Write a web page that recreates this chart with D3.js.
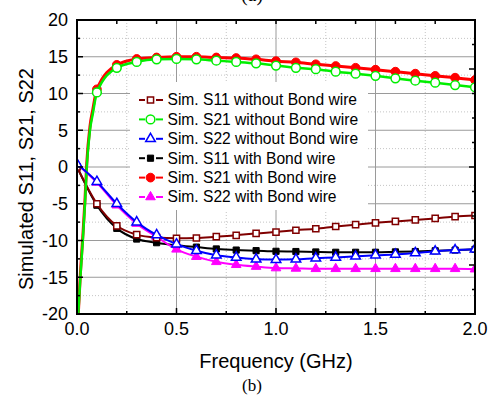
<!DOCTYPE html>
<meta charset="utf-8">
<html>
<head>
  <script src="https://d3js.org/d3.v7.min.js"></script>
  <style>
    body { margin: 0; background: #fff; }
    text { font-family: "Liberation Sans", Arial, sans-serif; fill: #000; }
    .serif { font-family: "Liberation Serif", "Times New Roman", serif; }
  </style>
</head>
<body>
<div id="chart"></div>
<script>
// frequency grid (GHz) for the S11 / S22 curves, markers at every point
const freq = [0, 0.1, 0.2, 0.3, 0.4, 0.5, 0.6, 0.7, 0.8, 0.9, 1.0,
              1.1, 1.2, 1.3, 1.4, 1.5, 1.6, 1.7, 1.8, 1.9, 2.0];
// S21 has a steep rise near 0 GHz, so it has some extra points there
const freqS21 = [0.0065, 0.017, 0.029, 0.04, 0.049, 0.065, 0.08,
                 0.1, 0.2, 0.3, 0.4, 0.5, 0.6, 0.7, 0.8, 0.9, 1.0,
                 1.1, 1.2, 1.3, 1.4, 1.5, 1.6, 1.7, 1.8, 1.9, 2.0];

const s11Without = [0, -5.0, -8.0, -9.2, -9.6, -9.7, -9.66, -9.48, -9.3, -9.03, -8.85,
                    -8.6, -8.4, -8.1, -7.85, -7.6, -7.4, -7.2, -7.0, -6.75, -6.6];
const s21Without = [-20, -15, -10, -5, 0, 5, 7.3,
                    10.15, 13.5, 14.3, 14.65, 14.7, 14.65, 14.47, 14.3, 14.1, 13.8,
                    13.5, 13.3, 12.97, 12.7, 12.4, 12.07, 11.75, 11.47, 11.15, 10.85];
const s22Without = [0.4, -2.0, -5.0, -7.5, -9.25, -10.5, -11.4, -12.0, -12.3, -12.55, -12.6,
                    -12.55, -12.4, -12.3, -12.15, -12.0, -11.9, -11.7, -11.47, -11.3, -11.2];
const s11With = [0, -5.2, -8.35, -9.8, -10.3, -10.65, -10.9, -11.15, -11.3, -11.38, -11.47,
                 -11.5, -11.56, -11.6, -11.6, -11.6, -11.55, -11.5, -11.4, -11.3, -11.2];
const s21With = [-20, -14.5, -9.5, -4.5, 0.5, 5.5, 7.9,
                 10.57, 13.9, 14.7, 14.9, 15.0, 15.0, 14.9, 14.83, 14.65, 14.4,
                 14.24, 13.97, 13.74, 13.5, 13.24, 12.97, 12.7, 12.4, 12.15, 11.84];
const s22With = [0.4, -2.1, -5.2, -7.7, -9.5, -11.2, -12.2, -12.9, -13.3, -13.55, -13.75,
                 -13.8, -13.85, -13.85, -13.85, -13.85, -13.85, -13.85, -13.85, -13.85, -13.9];

const labels = ["Sim. S11 without Bond wire", "Sim. S21 without Bond wire", "Sim. S22 without Bond wire",
                "Sim. S11 with Bond wire", "Sim. S21 with Bond wire", "Sim. S22 with Bond wire"];
const xTicks = [0, 0.5, 1.0, 1.5, 2.0];
const yTicks = [-20, -15, -10, -5, 0, 5, 10, 15, 20];

// series setup (legend order)
const series = [
  {name: labels[0], xs: freq,    ys: s11Without, color: "#800000", shape: "square",   open: true,  lw: 2},
  {name: labels[1], xs: freqS21, ys: s21Without, color: "#00ee00", shape: "circle",   open: true,  lw: 2.5},
  {name: labels[2], xs: freq,    ys: s22Without, color: "#0000ff", shape: "triangle", open: true,  lw: 2},
  {name: labels[3], xs: freq,    ys: s11With,    color: "#000000", shape: "square",   open: false, lw: 2},
  {name: labels[4], xs: freqS21, ys: s21With,    color: "#ff0000", shape: "circle",   open: false, lw: 3},
  {name: labels[5], xs: freq,    ys: s22With,    color: "#ff00ff", shape: "triangle", open: false, lw: 2}
];

const W = 495, H = 396;
const margin = {top: 20, right: 20, bottom: 82, left: 77};
const width = W - margin.left - margin.right,
      height = H - margin.top - margin.bottom;

const svg = d3.select("#chart").append("svg")
  .attr("width", W).attr("height", H);

const g = svg.append("g")
  .attr("transform", `translate(${margin.left},${margin.top})`);

const x = d3.scaleLinear().domain([0, 2]).range([0, width]);
const y = d3.scaleLinear().domain([-20, 20]).range([height, 0]);

// grid
const minorX = d3.range(0.25, 2, 0.5), majorX = d3.range(0.5, 2, 0.5);
const minorY = d3.range(-17.5, 20, 5), majorY = d3.range(-15, 20, 5);
g.append("g").selectAll("line").data(minorX).join("line")
  .attr("x1", d => x(d)).attr("x2", d => x(d)).attr("y1", 0).attr("y2", height)
  .attr("stroke", "#c4c4c4").attr("stroke-dasharray", "1,2");
g.append("g").selectAll("line").data(minorY).join("line")
  .attr("y1", d => y(d)).attr("y2", d => y(d)).attr("x1", 0).attr("x2", width)
  .attr("stroke", "#c4c4c4").attr("stroke-dasharray", "1,2");
g.append("g").selectAll("line").data(majorX).join("line")
  .attr("x1", d => x(d)).attr("x2", d => x(d)).attr("y1", 0).attr("y2", height)
  .attr("stroke", "#9a9a9a");
g.append("g").selectAll("line").data(majorY).join("line")
  .attr("y1", d => y(d)).attr("y2", d => y(d)).attr("x1", 0).attr("x2", width)
  .attr("stroke", "#9a9a9a");

// legend box covers the grid
const lg = g.append("g").attr("transform", "translate(53,62)");
lg.append("rect").attr("width", 238).attr("height", 128).attr("fill", "#fff");

// curves
g.append("clipPath").attr("id", "clip").append("rect")
  .attr("width", width).attr("height", height);
const plot = g.append("g").attr("clip-path", "url(#clip)");

const line = d3.line().curve(d3.curveMonotoneX)
  .x(d => x(d[0])).y(d => y(d[1]));

function markerPath(shape) {
  if (shape === "square") return d3.symbol(d3.symbolSquare, 38)();
  if (shape === "triangle") return d3.symbol(d3.symbolTriangle, 40)();
  return d3.symbol(d3.symbolCircle, 60)();
}
function styleMarker(sel, s) {
  sel.attr("d", markerPath(s.shape))
    .attr("fill", s.open ? "#fff" : s.color)
    .attr("stroke", s.color)
    .attr("stroke-width", s.open ? 1.5 : 1);
}

// "with" series first, the "without" ones lie on top
const drawOrder = [3, 4, 5, 0, 1, 2];
drawOrder.forEach(i => {
  const s = series[i];
  const pts = s.xs.map((f, k) => [f, s.ys[k]]);
  plot.append("path").datum(pts)
    .attr("fill", "none").attr("stroke", s.color).attr("stroke-width", s.lw)
    .attr("d", line);
  const marks = pts.filter(p => Math.abs(p[0] * 10 - Math.round(p[0] * 10)) < 1e-6);
  plot.append("g").selectAll("path").data(marks).join("path")
    .attr("transform", p => `translate(${x(p[0])},${y(p[1])})`)
    .call(styleMarker, s);
});

// legend entries
series.forEach((s, i) => {
  const row = lg.append("g").attr("transform", `translate(0,${18 + i * 19.4})`);
  row.append("line").attr("x1", 9).attr("x2", 15).attr("stroke", s.color).attr("stroke-width", 2);
  row.append("line").attr("x1", 26).attr("x2", 33).attr("stroke", s.color).attr("stroke-width", 2);
  row.append("path").attr("transform", "translate(20.5,0)").call(styleMarker, s);
  row.append("text").attr("x", 37.5).attr("dy", "0.35em")
    .style("font-size", "15.6px").text(s.name);
});

// frame
g.append("rect").attr("width", width).attr("height", height)
  .attr("fill", "none").attr("stroke", "#000").attr("stroke-width", 2);

// inward ticks
const tk = g.append("g").attr("stroke", "#000").attr("stroke-width", 1.5);
tk.selectAll(".bx").data(d3.range(0.25, 2, 0.25)).join("line")
  .attr("x1", d => x(d)).attr("x2", d => x(d))
  .attr("y1", height).attr("y2", (d, i) => height - (i % 2 ? 6 : 3));
tk.selectAll(".tx").data(d3.range(0.2, 2, 0.2)).join("line")
  .attr("x1", d => x(d)).attr("x2", d => x(d))
  .attr("y1", 0).attr("y2", 4);
tk.selectAll(".ly").data(d3.range(-17.5, 20, 2.5)).join("line")
  .attr("y1", d => y(d)).attr("y2", d => y(d))
  .attr("x1", 0).attr("x2", (d, i) => (i % 2 ? 6 : 3));
const yr = d3.scaleLinear().domain([0, 12]).range([height, 0]);
tk.selectAll(".ry").data(d3.range(1, 12)).join("line")
  .attr("y1", d => yr(d)).attr("y2", d => yr(d))
  .attr("x1", width).attr("x2", d => width - ((d - 2) % 4 === 0 ? 6 : 3));

// tick labels
g.append("g").selectAll("text").data(xTicks).join("text")
  .attr("x", d => x(d)).attr("y", height + 21)
  .attr("text-anchor", "middle").style("font-size", "18px")
  .text(d3.format(".1f"));
g.append("g").selectAll("text").data(yTicks).join("text")
  .attr("x", -9).attr("y", d => y(d)).attr("dy", "0.36em")
  .attr("text-anchor", "end").style("font-size", "18px")
  .text(d => d);

// axis titles
svg.append("text").attr("x", 276).attr("y", 368)
  .attr("text-anchor", "middle").style("font-size", "20px")
  .text("Frequency (GHz)");
svg.append("text").attr("transform", "translate(33,179) rotate(-90)")
  .attr("text-anchor", "middle").style("font-size", "20px")
  .text("Simulated S11, S21, S22");
svg.append("text").attr("class", "serif").attr("x", 252).attr("y", 391)
  .attr("text-anchor", "middle").style("font-size", "17px").text("(b)");
// caption of the panel above, only its lower edge shows
svg.append("text").attr("class", "serif").attr("x", 252).attr("y", 1)
  .attr("text-anchor", "middle").style("font-size", "20px").text("(a)");
</script>
</body>
</html>
